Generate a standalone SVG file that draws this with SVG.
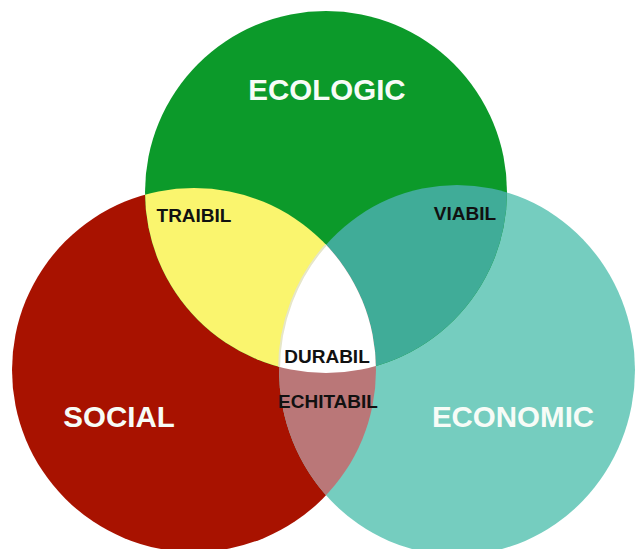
<svg xmlns="http://www.w3.org/2000/svg" width="635" height="549" viewBox="0 0 635 549">
  <style>
    .big { font-family: "Liberation Sans", Arial, sans-serif; font-weight: bold; font-size: 29.5px; fill: #f7fcf7; text-anchor: middle; }
    .small { font-family: "Liberation Sans", Arial, sans-serif; font-weight: bold; font-size: 19px; fill: #111111; text-anchor: middle; }
  </style>
  <defs>
    <circle id="shapeEco" cx="326" cy="192" r="181"/>
    <circle id="shapeSoc" cx="194" cy="370" r="182"/>
    <ellipse id="shapeEcn" cx="457" cy="370" rx="178" ry="185"/>
    <clipPath id="clipEco"><use href="#shapeEco"/></clipPath>
    <clipPath id="clipSoc"><use href="#shapeSoc"/></clipPath>
    <clipPath id="clipEcn"><use href="#shapeEcn"/></clipPath>
  </defs>

  <rect width="635" height="549" fill="#ffffff"/>

  <!-- the three sets -->
  <g id="social">
    <use href="#shapeSoc" fill="#a81200"/>
  </g>
  <g id="economic">
    <use href="#shapeEcn" fill="#75cdbf"/>
  </g>
  <g id="ecologic">
    <use href="#shapeEco" fill="#0c9a2a"/>
  </g>

  <!-- pairwise overlaps -->
  <g id="traibil" clip-path="url(#clipEco)">
    <use href="#shapeSoc" fill="#faf56e"/>
  </g>
  <g id="viabil" clip-path="url(#clipEco)">
    <use href="#shapeEcn" fill="#40ac98"/>
  </g>
  <g id="echitabil" clip-path="url(#clipSoc)">
    <use href="#shapeEcn" fill="#ba7778"/>
  </g>

  <!-- centre: all three -->
  <g id="durabil" clip-path="url(#clipEco)">
    <g clip-path="url(#clipSoc)">
      <use href="#shapeEcn" fill="#ffffff" stroke="#e6e6c8" stroke-width="2"/>
    </g>
  </g>

  <!-- labels -->
  <g id="labels">
    <text class="big" x="327" y="100">ECOLOGIC</text>
    <text class="big" x="119" y="427">SOCIAL</text>
    <text class="big" x="513" y="427">ECONOMIC</text>
    <text class="small" x="194" y="222">TRAIBIL</text>
    <text class="small" x="465" y="220">VIABIL</text>
    <text class="small" x="327" y="363">DURABIL</text>
    <text class="small" x="328" y="408">ECHITABIL</text>
  </g>
</svg>
